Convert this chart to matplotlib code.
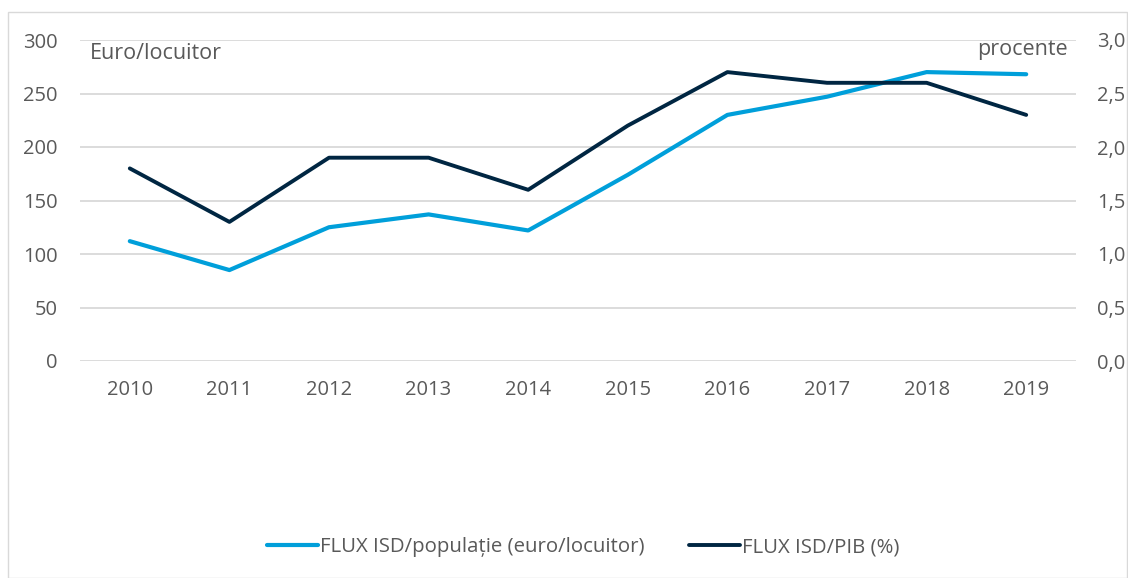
import matplotlib
matplotlib.use("Agg")
import matplotlib.pyplot as plt
from matplotlib.patches import Rectangle
from matplotlib.ticker import FuncFormatter

years = ["2010", "2011", "2012", "2013", "2014", "2015", "2016", "2017", "2018", "2019"]
flux_pop = [112, 85, 125, 137, 122, 174, 230, 247, 270, 268]
flux_pib = [1.8, 1.3, 1.9, 1.9, 1.6, 2.2, 2.7, 2.6, 2.6, 2.3]
left_ticks = [0, 50, 100, 150, 200, 250, 300]
right_ticks = [0.0, 0.5, 1.0, 1.5, 2.0, 2.5, 3.0]

plt.rcParams['font.family'] = ['Open Sans', 'DejaVu Sans']
TXT = '#595959'
C1 = '#009FDA'
C2 = '#002642'

W, H = 1128, 578
fig = plt.figure(figsize=(W/100, H/100), dpi=100)
fig.patches.append(Rectangle((8/W, 0), 1 - 8/W - 0.001, 1 - 12/H, transform=fig.transFigure,
                             fill=False, edgecolor='#D9D9D9', linewidth=1))
AX_L, AX_R, AX_T, AX_B = 80, 1076, 40, 361
ax = fig.add_axes([AX_L/W, 1 - AX_B/H, (AX_R-AX_L)/W, (AX_B-AX_T)/H])
ax2 = ax.twinx()

x = list(range(len(years)))
l1, = ax.plot(x, flux_pop, color=C1, linewidth=3.0, solid_capstyle='round', zorder=3,
              label='FLUX ISD/populație (euro/locuitor)')
l2, = ax2.plot(x, flux_pib, color=C2, linewidth=2.8, solid_capstyle='round', zorder=3,
               label='FLUX ISD/PIB (%)')

ax.set_xlim(-0.5, len(years) - 0.5)
ax.set_ylim(0, 300)
ax2.set_ylim(0, 3.0)
ax.set_yticks(left_ticks)
ax2.set_yticks(right_ticks)
ax2.yaxis.set_major_formatter(FuncFormatter(lambda v, p: f"{v:.1f}".replace('.', ',')))
ax.set_xticks(x)
ax.set_xticklabels(years)

ax.grid(axis='y', color='#D9D9D9', linewidth=1.3)
ax.set_axisbelow(True)
for a in (ax, ax2):
    for s in a.spines.values():
        s.set_visible(False)
    a.tick_params(length=0, labelsize=14.5, colors=TXT)
ax.tick_params(axis='y', pad=16)
ax2.tick_params(axis='y', pad=15)
ax.tick_params(axis='x', pad=14)

ax.text(10/996, 1 - 19/321, 'Euro/locuitor', transform=ax.transAxes, ha='left', va='baseline',
        fontsize=15.5, color=TXT)
ax.text(1 - 8/996, 1 - 15/321, 'procente', transform=ax.transAxes, ha='right', va='baseline',
        fontsize=15.5, color=TXT)

fig.legend(handles=[l1, l2], loc='center', bbox_to_anchor=(583/W, 1 - 547/H), ncol=2,
           frameon=False, fontsize=14.7, handlelength=2.5, handletextpad=0.1, columnspacing=2.2,
           labelcolor=TXT)

fig.savefig('out.png', dpi=100)
